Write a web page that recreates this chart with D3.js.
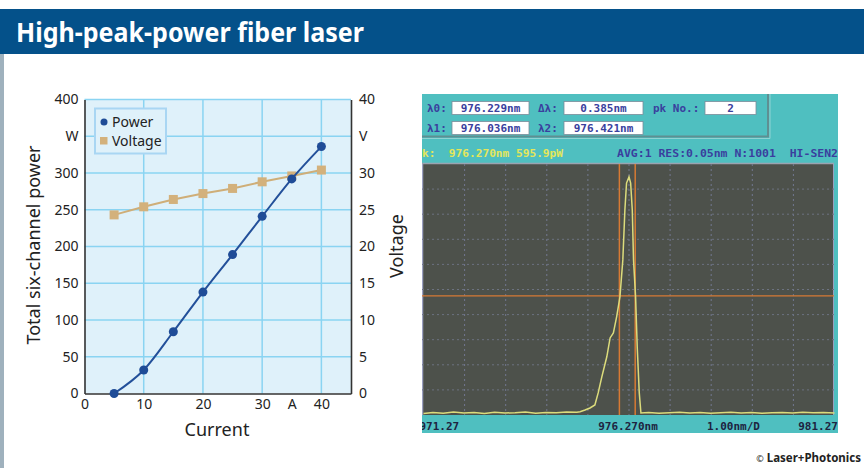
<!DOCTYPE html>
<html><head><meta charset="utf-8">
<script src="https://cdn.jsdelivr.net/npm/d3@7"></script>
<style>html,body{margin:0;padding:0;background:#fff;} svg{display:block;}</style>
</head><body>
<script>
// ---- Left chart data ----
const current = [5, 10, 15, 20, 25, 30, 35, 40];
const power = [0, 32, 84, 138, 189, 241, 292, 336];
const voltage = [24.3, 25.4, 26.4, 27.2, 27.9, 28.8, 29.6, 30.4];
const xTicks = [0, 10, 20, 30, 35, 40];
const xTickLabels = ["0", "10", "20", "30", "A", "40"];
const powerTicks = [0, 50, 100, 150, 200, 250, 300, 350, 400];
const powerTickLabels = ["0", "50", "100", "150", "200", "250", "300", "W", "400"];
const voltTicks = [0, 5, 10, 15, 20, 25, 30, 35, 40];
const voltTickLabels = ["0", "5", "10", "15", "20", "25", "30", "V", "40"];
const seriesNames = ["Power", "Voltage"];

// ---- Spectrum (OSA screen) data ----
const specNm = [971.27, 971.5, 971.75, 972.0, 972.25, 972.5, 972.75, 973.0, 973.25, 973.5, 973.75, 974.0, 974.25, 974.5, 974.75, 975.0,
  975.08, 975.2, 975.32, 975.44, 975.52, 975.61, 975.73, 975.81, 975.89, 975.97, 976.05, 976.12, 976.17, 976.21, 976.27,
  976.31, 976.35, 976.38, 976.43, 976.47, 976.52, 976.56, 976.75, 977.0, 977.25, 977.5, 977.75, 978.0, 978.25, 978.5,
  978.75, 979.0, 979.25, 979.5, 979.75, 980.0, 980.25, 980.5, 980.75, 981.0, 981.27];
const specDiv = [0.06, 0.1, 0.07, 0.12, 0.08, 0.1, 0.06, 0.11, 0.08, 0.09, 0.12, 0.07, 0.1, 0.09, 0.12, 0.11,
  0.13, 0.2, 0.28, 0.4, 0.88, 1.53, 2.32, 3.07, 3.27, 3.92, 4.71, 6.18, 8.17, 9.24, 9.49,
  9.24, 8.17, 6.18, 4.71, 2.72, 0.88, 0.08, 0.1, 0.07, 0.09, 0.11, 0.08, 0.1, 0.07, 0.09,
  0.11, 0.08, 0.1, 0.07, 0.09, 0.1, 0.08, 0.11, 0.09, 0.1, 0.08];
const markerNm = [976.036, 976.421];
const halfMaxDiv = 4.75;
const fieldRow1 = [["λ0:", "976.229nm"], ["Δλ:", "0.385nm"], ["pk No.:", "2"]];
const fieldRow2 = [["λ1:", "976.036nm"], ["λ2:", "976.421nm"]];
const statusLeft = "k:  976.270nm 595.9pW";
const statusRight = "AVG:1 RES:0.05nm N:1001  HI-SEN2";
const bottomLabels = ["971.27", "976.270nm", "1.00nm/D", "981.27"];

const W = 864, H = 468;
const svg = d3.select("body").append("svg").attr("width", W).attr("height", H)
  .style("font-family", "'Noto Sans', 'Open Sans', sans-serif");

// Header
svg.append("rect").attr("x", 0).attr("y", 9).attr("width", W).attr("height", 45).attr("fill", "#04518a");
svg.append("text").attr("x", 16).attr("y", 42).attr("fill", "#fff")
  .attr("font-size", 27).attr("font-weight", 700)
  .attr("textLength", 348).attr("lengthAdjust", "spacingAndGlyphs")
  .text("High-peak-power fiber laser");
svg.append("rect").attr("x", 0).attr("y", 54).attr("width", 4).attr("height", H - 54).attr("fill", "#9fb1bd");

// ---- Left chart ----
const x = d3.scaleLinear().domain([0, 45]).range([84.5, 351]);
const yP = d3.scaleLinear().domain([0, 400]).range([393.5, 99.5]);
const yV = d3.scaleLinear().domain([0, 40]).range([393.5, 99.5]);
const g = svg.append("g");
g.append("rect").attr("x", x(0)).attr("y", yP(400)).attr("width", x(45) - x(0)).attr("height", yP(0) - yP(400)).attr("fill", "#dff1fa");

// grid
g.selectAll(".hg").data(powerTicks.filter(d => d > 0)).join("line")
  .attr("x1", x(0)).attr("x2", x(45)).attr("y1", d => yP(d)).attr("y2", d => yP(d))
  .attr("stroke", "#8ad4f2").attr("stroke-width", 1.5);
g.selectAll(".vg").data([10, 20, 30, 40]).join("line")
  .attr("x1", d => x(d)).attr("x2", d => x(d)).attr("y1", yP(0)).attr("y2", yP(400))
  .attr("stroke", "#8ad4f2").attr("stroke-width", 1.5);

// axes (no ticks, labels only)
const axL = d3.axisLeft(yP).tickValues(powerTicks).tickFormat((d, i) => powerTickLabels[i]).tickSize(0).tickPadding(6);
const axR = d3.axisRight(yV).tickValues(voltTicks).tickFormat((d, i) => voltTickLabels[i]).tickSize(0).tickPadding(8);
const axB = d3.axisBottom(x).tickValues(xTicks).tickFormat((d, i) => xTickLabels[i]).tickSize(0).tickPadding(6);
function styleAxis(sel) {
  sel.select(".domain").attr("stroke", "#333").attr("stroke-width", 1.6);
  sel.selectAll("text").attr("font-size", 14).attr("fill", "#222").attr("font-family", "'Noto Sans', sans-serif");
}
g.append("g").attr("transform", `translate(${x(0)},0)`).call(axL).call(styleAxis);
g.append("g").attr("transform", `translate(${x(45)},0)`).call(axR).call(styleAxis);
g.append("g").attr("transform", `translate(0,${yP(0)})`).call(axB).call(styleAxis);

// series
const pData = current.map((c, i) => [c, power[i]]);
const vData = current.map((c, i) => [c, voltage[i]]);
g.append("path").datum(vData).attr("fill", "none").attr("stroke", "#cfae78").attr("stroke-width", 2)
  .attr("d", d3.line().x(d => x(d[0])).y(d => yV(d[1])));
g.selectAll(".vm").data(vData).join("rect")
  .attr("x", d => x(d[0]) - 4.5).attr("y", d => yV(d[1]) - 4.5).attr("width", 9).attr("height", 9).attr("fill", "#d3b17c");
g.append("path").datum(pData).attr("fill", "none").attr("stroke", "#23509a").attr("stroke-width", 2)
  .attr("d", d3.line().curve(d3.curveMonotoneX).x(d => x(d[0])).y(d => yP(d[1])));
g.selectAll(".pm").data(pData).join("circle")
  .attr("cx", d => x(d[0])).attr("cy", d => yP(d[1])).attr("r", 4.5).attr("fill", "#1f4c97");

// legend
const lg = g.append("g");
lg.append("rect").attr("x", 95).attr("y", 108.5).attr("width", 71).attr("height", 45)
  .attr("fill", "#dff1fa").attr("stroke", "#a9d6f3").attr("stroke-width", 2);
lg.append("circle").attr("cx", 104).attr("cy", 122).attr("r", 3.5).attr("fill", "#1f4c97");
lg.append("rect").attr("x", 100).attr("y", 137).attr("width", 7.5).attr("height", 7.5).attr("fill", "#d3b17c");
lg.selectAll("text").data(seriesNames).join("text")
  .attr("x", 112).attr("y", (d, i) => 127 + i * 19).attr("font-size", 14).attr("fill", "#222").text(d => d);

// axis titles
svg.append("text").attr("transform", "translate(40,245) rotate(-90)").attr("text-anchor", "middle")
  .attr("font-size", 18).attr("fill", "#222").text("Total six-channel power");
svg.append("text").attr("transform", "translate(403,246) rotate(-90)").attr("text-anchor", "middle")
  .attr("font-size", 18).attr("fill", "#222").text("Voltage");
svg.append("text").attr("x", 217).attr("y", 436).attr("text-anchor", "middle")
  .attr("font-size", 18).attr("fill", "#222").text("Current");

// ---- Right: OSA screen ----
const P = { x0: 422, y0: 94, x1: 838, y1: 433 };
svg.append("clipPath").attr("id", "pclip").append("rect")
  .attr("x", P.x0).attr("y", P.y0).attr("width", P.x1 - P.x0).attr("height", P.y1 - P.y0);
const r = svg.append("g").attr("clip-path", "url(#pclip)");
r.append("rect").attr("x", P.x0).attr("y", P.y0).attr("width", P.x1 - P.x0).attr("height", P.y1 - P.y0).attr("fill", "#4fbfc0");
// top panel border
r.append("path").attr("d", `M${P.x0},136.5 H768 V${P.y0}`).attr("fill", "none").attr("stroke", "#5f8f92").attr("stroke-width", 2);
r.append("path").attr("d", `M${P.x0},138.5 H770 V${P.y0}`).attr("fill", "none").attr("stroke", "#8fd3d3").attr("stroke-width", 1);

const mono = "'DejaVu Sans Mono', 'Liberation Mono', monospace";
const navy = "#3a3f9e";
function field(lbl, val, lx, bx, bw, y) {
  r.append("text").attr("x", lx).attr("y", y + 10).attr("font-family", mono).attr("font-weight", 700)
    .attr("font-size", 11).attr("fill", navy).text(lbl);
  r.append("rect").attr("x", bx).attr("y", y).attr("width", bw).attr("height", 13).attr("fill", "#fff")
    .attr("stroke", "#7a8c9a").attr("stroke-width", 0.8);
  r.append("text").attr("x", bx + bw / 2).attr("y", y + 10.5).attr("text-anchor", "middle").attr("font-family", mono)
    .attr("font-weight", 700).attr("font-size", 11).attr("fill", navy).text(val);
}
field(fieldRow1[0][0], fieldRow1[0][1], 427, 452, 77, 101.5);
field(fieldRow1[1][0], fieldRow1[1][1], 538, 564, 79, 101.5);
field(fieldRow1[2][0], fieldRow1[2][1], 653, 705, 51, 101.5);
field(fieldRow2[0][0], fieldRow2[0][1], 427, 452, 77, 121.5);
field(fieldRow2[1][0], fieldRow2[1][1], 538, 564, 79, 121.5);

r.append("text").attr("x", 422).attr("y", 157).attr("font-family", mono).attr("font-size", 11).attr("font-weight", 700)
  .attr("fill", "#e4e65a").style("white-space", "pre")
  .attr("textLength", 141).attr("lengthAdjust", "spacingAndGlyphs").text(statusLeft);
r.append("text").attr("x", 617).attr("y", 157).attr("font-family", mono).attr("font-size", 11).attr("font-weight", 700)
  .attr("fill", navy).style("white-space", "pre")
  .attr("textLength", 221).attr("lengthAdjust", "spacingAndGlyphs").text(statusRight);

// plot area
const sx = d3.scaleLinear().domain([971.27, 981.27]).range([423.5, 834.5]);
const sy = d3.scaleLinear().domain([0, 10]).range([415, 164]);
const pa = { x0: 422, x1: 834, y0: 164, y1: 415 };
r.append("rect").attr("x", pa.x0).attr("y", pa.y0).attr("width", pa.x1 - pa.x0).attr("height", pa.y1 - pa.y0).attr("fill", "#4d514b");
r.append("line").attr("x1", pa.x0).attr("x2", pa.x1).attr("y1", pa.y0 - 0.5).attr("y2", pa.y0 - 0.5).attr("stroke", "#9aa3b0").attr("stroke-width", 1.5);
r.append("line").attr("x1", pa.x0 + 0.5).attr("x2", pa.x0 + 0.5).attr("y1", pa.y0).attr("y2", pa.y1).attr("stroke", "#9a9fc0").attr("stroke-width", 1.5);
r.append("line").attr("x1", pa.x1 - 0.5).attr("x2", pa.x1 - 0.5).attr("y1", pa.y0).attr("y2", pa.y1).attr("stroke", "#9a9fc0").attr("stroke-width", 1);
const divNm = d3.range(1, 10).map(i => 971.27 + i);
r.selectAll(".svg").data(divNm).join("line")
  .attr("x1", d => sx(d)).attr("x2", d => sx(d)).attr("y1", pa.y0).attr("y2", pa.y1)
  .attr("stroke", "#727890").attr("stroke-width", 1).attr("stroke-dasharray", "2,3");
r.selectAll(".shg").data(d3.range(1, 10)).join("line")
  .attr("x1", pa.x0).attr("x2", pa.x1).attr("y1", d => sy(d)).attr("y2", d => sy(d))
  .attr("stroke", "#6c7280").attr("stroke-width", 1).attr("stroke-dasharray", "2,3");
// markers
r.selectAll(".mk").data(markerNm).join("line")
  .attr("x1", d => sx(d)).attr("x2", d => sx(d)).attr("y1", pa.y0).attr("y2", pa.y1)
  .attr("stroke", "#d77a34").attr("stroke-width", 1.5);
r.append("line").attr("x1", pa.x0).attr("x2", pa.x1).attr("y1", sy(halfMaxDiv)).attr("y2", sy(halfMaxDiv))
  .attr("stroke", "#d77a34").attr("stroke-width", 1.2);
// trace
const spec = specNm.map((n, i) => [n, specDiv[i]]);
r.append("path").datum(spec).attr("fill", "none").attr("stroke", "#dcdc7c").attr("stroke-width", 1.5)
  .attr("d", d3.line().x(d => sx(d[0])).y(d => sy(d[1])));
// bottom labels
const bl = [[419.5, "start"], [628, "middle"], [733.5, "middle"], [838, "end"]];
r.selectAll(".bl").data(bottomLabels).join("text")
  .attr("x", (d, i) => bl[i][0]).attr("y", 430).attr("text-anchor", (d, i) => bl[i][1])
  .attr("font-family", mono).attr("font-weight", 700).attr("font-size", 11).attr("fill", "#1e2440").text(d => d);

// credit
svg.append("text").attr("x", 861).attr("y", 462).attr("text-anchor", "end")
  .attr("font-family", "'Noto Sans', sans-serif").attr("font-size", 11.5).attr("font-weight", 700).attr("fill", "#222")
  .text("Laser+Photonics");
svg.append("text").attr("x", 760).attr("y", 462).attr("text-anchor", "middle")
  .attr("font-size", 9).attr("fill", "#222").text("©");
</script>
</body></html>
